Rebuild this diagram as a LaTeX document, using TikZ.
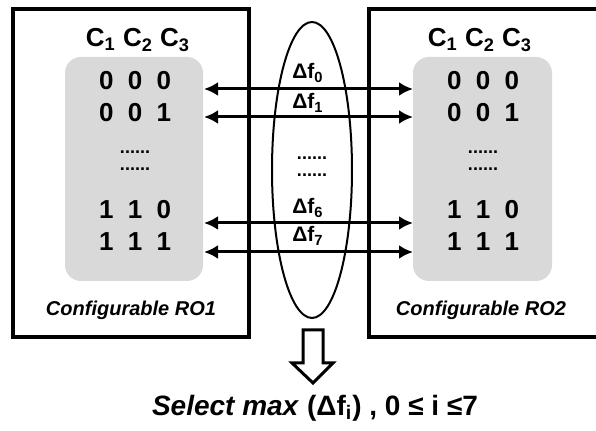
\documentclass[tikz,border=0pt]{standalone}
\usepackage{fontspec}
\setmainfont{Liberation Sans}
\usetikzlibrary{arrows.meta}
\definecolor{cellgray}{RGB}{217,217,217}
\tikzset{
  bits/.style={font=\fontsize{13}{15}\selectfont\bfseries},
  dots/.style={font=\fontsize{9}{9}\selectfont\bfseries,inner sep=0pt},
  dlabel/.style={font=\fontsize{10.5}{12}\selectfont\bfseries},
  link/.style={line width=1.5pt,{Latex[length=7pt,width=7pt]}-{Latex[length=7pt,width=7pt]}}
}
\begin{document}
\begin{tikzpicture}[x=0.5pt,y=-0.5pt]
  \useasboundingbox (0,0) rectangle (596,431);
  % the two ring oscillator boxes
  \draw[line width=2pt] (13,9) rectangle (249,337);
  \draw[line width=2pt] (600,9) -- (369,9) -- (369,337) -- (600,337);
  % grey tables of configurations
  \fill[cellgray,rounded corners=8pt] (65,57) rectangle (203,281);
  \fill[cellgray,rounded corners=8pt] (413,57) rectangle (552,281);
  % column heads
  \node[bits] (lhead) at (138,40) {C\textsubscript{1} C\textsubscript{2} C\textsubscript{3}};
  \node[bits] (rhead) at (480,40) {C\textsubscript{1} C\textsubscript{2} C\textsubscript{3}};
  % rows of the left table
  \node[bits] (l0) at (135,81) {0\hspace{0.55em}0\hspace{0.55em}0};
  \node[bits] (l1) at (135,113) {0\hspace{0.55em}0\hspace{0.55em}1};
  \node[dots] (ld1) at (135,152) {......};
  \node[dots] (ld2) at (135,169) {......};
  \node[bits] (l6) at (135,210) {1\hspace{0.55em}1\hspace{0.55em}0};
  \node[bits] (l7) at (135,242) {1\hspace{0.55em}1\hspace{0.55em}1};
  % rows of the right table
  \node[bits] (r0) at (483,81) {0\hspace{0.55em}0\hspace{0.55em}0};
  \node[bits] (r1) at (483,113) {0\hspace{0.55em}0\hspace{0.55em}1};
  \node[dots] (rd1) at (483,152) {......};
  \node[dots] (rd2) at (483,169) {......};
  \node[bits] (r6) at (483,210) {1\hspace{0.55em}1\hspace{0.55em}0};
  \node[bits] (r7) at (483,242) {1\hspace{0.55em}1\hspace{0.55em}1};
  % arrow ends on the table edges
  \coordinate (la0) at (204,89);  \coordinate (ra0) at (413,89);
  \coordinate (la1) at (204,117); \coordinate (ra1) at (413,117);
  \coordinate (la6) at (204,223); \coordinate (ra6) at (413,223);
  \coordinate (la7) at (204,252); \coordinate (ra7) at (413,252);
  \draw[link] (la0) -- (ra0);
  \draw[link] (la1) -- (ra1);
  \draw[link] (la6) -- (ra6);
  \draw[link] (la7) -- (ra7);
  % frequency differences
  \node[dlabel] (d0) at (308,73) {Δf\textsubscript{0}};
  \node[dlabel] (d1) at (308,103) {Δf\textsubscript{1}};
  \node[dots] (md1) at (312,158) {......};
  \node[dots] (md2) at (312,175) {......};
  \node[dlabel] (d6) at (308,208) {Δf\textsubscript{6}};
  \node[dlabel] (d7) at (308,236) {Δf\textsubscript{7}};
  \draw[line width=1pt] (312,170) ellipse [x radius=40, y radius=148];
  % box names
  \node[font=\fontsize{10}{12}\selectfont\bfseries\itshape] (lname) at (131,310) {Configurable RO1};
  \node[font=\fontsize{10}{12}\selectfont\bfseries\itshape] (rname) at (481,310) {Configurable RO2};
  % hollow arrow and result
  \draw[line width=1.5pt,fill=white] (303,330) -- (323,330) -- (323,363) -- (333,363)
    -- (313,383) -- (292,363) -- (303,363) -- cycle;
  \node[font=\fontsize{14}{16}\selectfont\bfseries] (sel) at (315,408)
    {\textit{Select max} (Δf\textsubscript{i}) , 0 ≤ i ≤7};
\end{tikzpicture}
\end{document}
